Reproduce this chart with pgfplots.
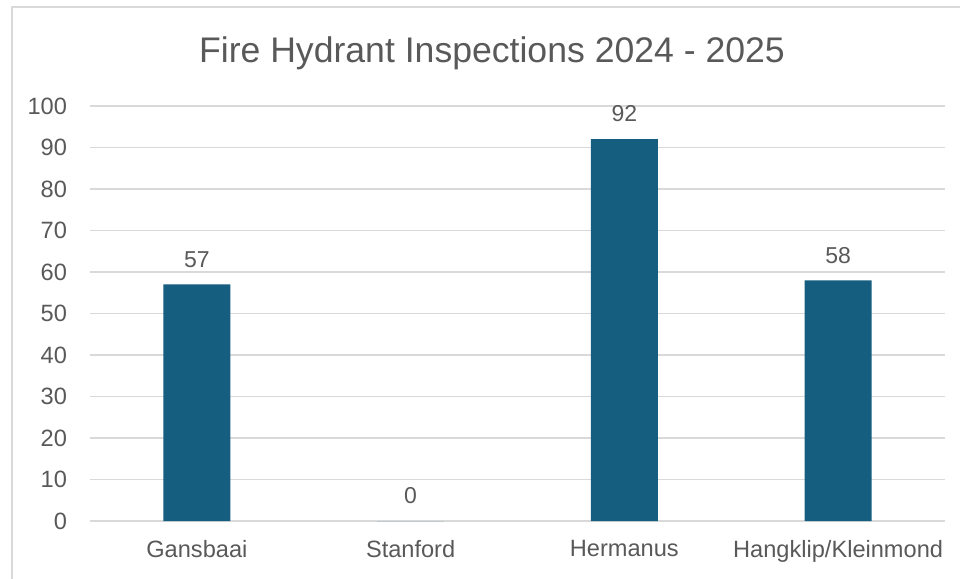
\documentclass[border=0pt]{standalone}
\usepackage{fontspec}
\setmainfont{Liberation Sans}
\usepackage{pgfplots}
\pgfplotsset{compat=1.18}
\definecolor{barblue}{HTML}{165E80}
\definecolor{gridgray}{HTML}{D9D9D9}
\definecolor{textgray}{HTML}{595959}
\begin{document}
\begin{tikzpicture}
% 1px = 0.5pt, picture 960x579 px
\useasboundingbox (0,0) rectangle (480pt,289.5pt);
\draw[gridgray, line width=0.8pt] (6pt,0) -- (6pt,286pt) -- (480pt,286pt);
\node[textgray, font=\fontsize{17.8}{21}\selectfont] at (246pt,263pt) {Fire Hydrant Inspections 2024 - 2025};
\begin{axis}[
  at={(45pt,29pt)}, anchor=south west,
  scale only axis, width=427.5pt, height=207.5pt,
  ybar, bar width=33.5pt,
  xmin=-0.5, xmax=3.5, ymin=0, ymax=100,
  xtick=data,
  xticklabels={Gansbaai,Stanford,Hermanus,Hangklip/Kleinmond},
  ytick={0,10,...,100},
  axis line style={draw=none},
  major tick length=0pt,
  ymajorgrids, grid style={gridgray, line width=0.6pt},
  tick label style={font=\fontsize{11.8}{13}\selectfont, text=textgray},
  /pgf/number format/assume math mode=true,
  yticklabel style={xshift=-8pt},
  xticklabel style={yshift=-6pt},
  nodes near coords,
  every node near coord/.append style={font=\fontsize{11.5}{13}\selectfont, text=textgray, yshift=5pt},
]
\addplot[fill=barblue, draw=none] coordinates {(0,57) (1,0) (2,92) (3,58)};
\end{axis}
\end{tikzpicture}
\end{document}
